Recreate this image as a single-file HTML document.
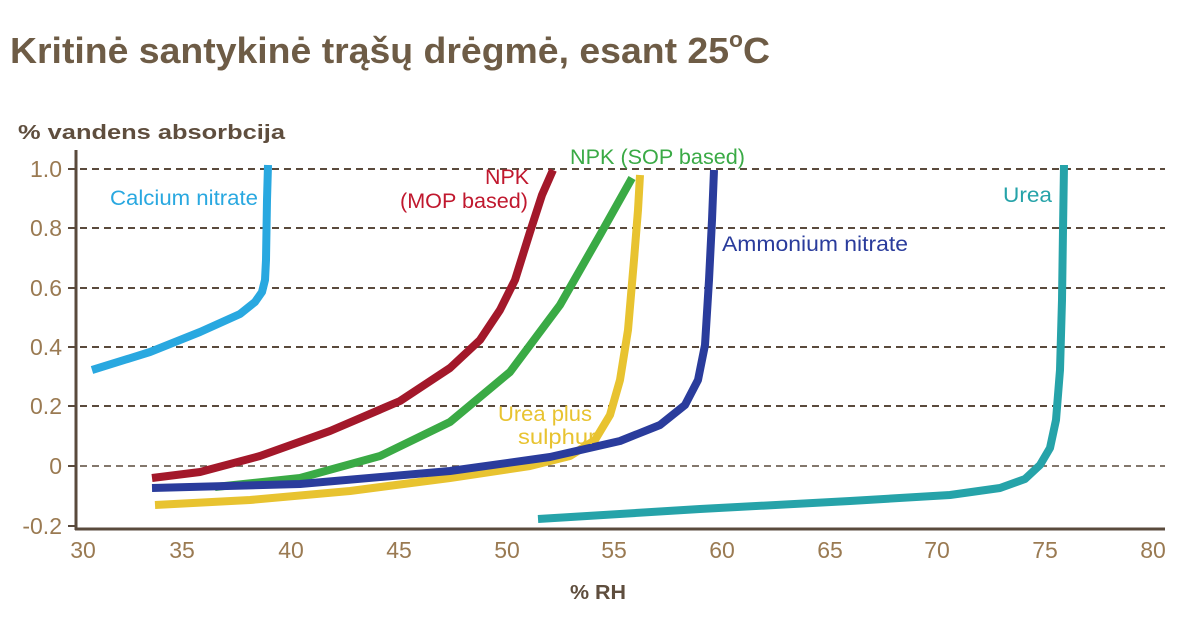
<!DOCTYPE html>
<html><head><meta charset="utf-8"><style>
body{margin:0;background:#fff;width:1204px;height:621px;overflow:hidden}
svg{display:block;font-family:"Liberation Sans","DejaVu Sans",sans-serif}
</style></head><body>
<svg width="1204" height="621" viewBox="0 0 1204 621">
<text x="10" y="63" font-size="36" font-weight="bold" fill="#6e5c46" textLength="760" lengthAdjust="spacingAndGlyphs">Kritinė santykinė trąšų drėgmė, esant 25<tspan font-size="22" dy="-16">o</tspan><tspan dy="16">C</tspan></text>
<text x="18" y="139" font-size="20" font-weight="bold" fill="#5f4e3e" textLength="267" lengthAdjust="spacingAndGlyphs">% vandens absorbcija</text>
<text x="570" y="599" font-size="20" font-weight="bold" fill="#5f4e3e" textLength="56" lengthAdjust="spacingAndGlyphs">% RH</text>
<g stroke="#5a4a3c" stroke-width="2" stroke-dasharray="7,5">
<line x1="80" y1="169" x2="1165" y2="169"/>
<line x1="80" y1="228" x2="1165" y2="228"/>
<line x1="80" y1="288" x2="1165" y2="288"/>
<line x1="80" y1="347" x2="1165" y2="347"/>
<line x1="80" y1="406" x2="1165" y2="406"/>
<line x1="80" y1="466" x2="1165" y2="466" stroke-width="1.5"/>
</g>
<g stroke="#5a4a3c" stroke-width="3">
<line x1="76" y1="150" x2="76" y2="530"/>
<line x1="75" y1="529" x2="1165" y2="529"/>
</g>
<g stroke="#5a4a3c" stroke-width="2">
<line x1="68" y1="169" x2="76" y2="169"/><line x1="68" y1="228" x2="76" y2="228"/>
<line x1="68" y1="288" x2="76" y2="288"/><line x1="68" y1="347" x2="76" y2="347"/>
<line x1="68" y1="406" x2="76" y2="406"/><line x1="68" y1="466" x2="76" y2="466"/>
<line x1="68" y1="526" x2="76" y2="526"/>
</g>
<g font-size="23" fill="#9a7a52" text-anchor="end">
<text x="62" y="177">1.0</text><text x="62" y="236">0.8</text><text x="62" y="296">0.6</text>
<text x="62" y="355">0.4</text><text x="62" y="414">0.2</text><text x="62" y="474">0</text>
<text x="62" y="534">-0.2</text>
</g>
<g font-size="23" fill="#9a7a52" text-anchor="middle">
<text x="83" y="558">30</text><text x="182" y="558">35</text><text x="291" y="558">40</text>
<text x="399" y="558">45</text><text x="507" y="558">50</text><text x="614" y="558">55</text>
<text x="722" y="558">60</text><text x="830" y="558">65</text><text x="937" y="558">70</text>
<text x="1045" y="558">75</text><text x="1153" y="558">80</text>
</g>
<g fill="none" stroke-width="8" stroke-linejoin="round" stroke-linecap="butt">
<polyline stroke="#29a8e0" points="92,370 150,352 200,332 240,314 255,302 262,292 265,280 266,260 267,200 268,165"/>
<polyline stroke="#a3182a" points="152,478 200,472 260,456 330,431 400,401 450,368 480,340 500,310 515,280 530,232 542,195 553,170"/>
<polyline stroke="#3aaa45" points="215,487 300,478 380,456 450,422 510,372 560,305 600,235 632,178"/>
<polyline stroke="#e8c330" points="155,505 250,500 350,491 450,478 530,466 570,456 595,440 610,415 620,380 628,330 634,260 638,210 640,175"/>
<polyline stroke="#2a3c9c" points="152,488 300,484 450,471 550,457 620,441 660,425 685,405 698,380 705,345 709,280 712,220 714,170"/>
<polyline stroke="#26a3a9" points="538,519 700,509 850,501 950,495 1000,488 1025,479 1040,465 1050,448 1056,420 1060,370 1062,300 1063,230 1064,165"/>
</g>
<g font-size="21">
<text x="110" y="205" fill="#29a8e0" textLength="148" lengthAdjust="spacingAndGlyphs">Calcium nitrate</text>
<text x="485" y="184" fill="#c0182e" textLength="44" lengthAdjust="spacingAndGlyphs">NPK</text>
<text x="400" y="208" fill="#c0182e" textLength="128" lengthAdjust="spacingAndGlyphs">(MOP based)</text>
<text x="570" y="164" fill="#3aaa45" textLength="175" lengthAdjust="spacingAndGlyphs">NPK (SOP based)</text>
<text x="722" y="251" fill="#2a3c9c" textLength="186" lengthAdjust="spacingAndGlyphs">Ammonium nitrate</text>
<text x="1003" y="202" fill="#26a3a9" textLength="49" lengthAdjust="spacingAndGlyphs">Urea</text>
<text x="498" y="421" fill="#e8c330" textLength="94" lengthAdjust="spacingAndGlyphs">Urea plus</text>
<text x="518" y="444" fill="#e8c330" textLength="78" lengthAdjust="spacingAndGlyphs">sulphur</text>
</g>
</svg>
</body></html>
